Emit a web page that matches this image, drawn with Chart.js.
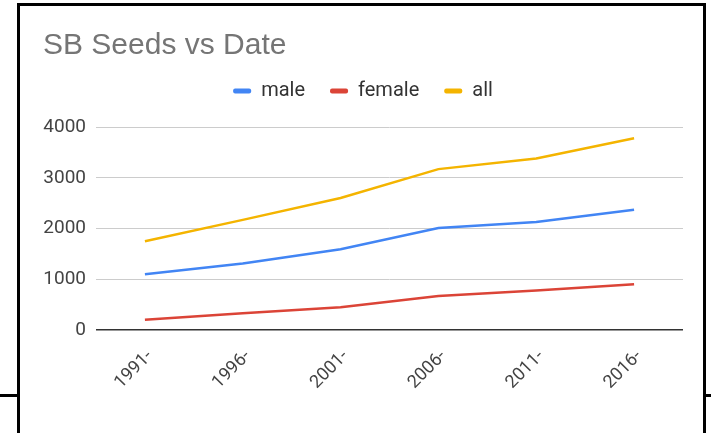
<!DOCTYPE html>
<html>
<head>
<meta charset="utf-8">
<title>SB Seeds vs Date</title>
<script src="https://cdn.jsdelivr.net/npm/chart.js@4"></script>
<style>
    html, body { margin: 0; padding: 0; background: #fff; overflow: hidden; }
    body { width: 711px; height: 433px; position: relative; }
    .frame {
        position: absolute; left: 17px; top: 3px; width: 683px; height: 440px;
        border: 3px solid #000; border-bottom: none;
    }
    .stub { position: absolute; top: 394px; height: 3px; background: #000; }
    #seedChart { position: absolute; left: 20px; top: 6px; }
</style>
</head>
<body>
<div class="frame"></div>
<div class="stub" style="left:0; width:17px;"></div>
<div class="stub" style="left:706px; width:5px;"></div>
<canvas id="seedChart" width="683" height="427"></canvas>
<script>
const dateLabels = ['1991-', '1996-', '2001-', '2006-', '2011-', '2016-'];
const maleSeeds = [1100, 1310, 1590, 2010, 2130, 2370];
const femaleSeeds = [200, 330, 450, 670, 780, 900];
const allSeeds = [1750, 2170, 2600, 3170, 3380, 3780];
const yTicks = [0, 1000, 2000, 3000, 4000];

const seriesColors = {
    male: '#4285f4',
    female: '#db4437',
    all: '#f4b400'
};

// extra room between the legend row and the plot
const legendGap = {
    id: 'legendGap',
    beforeInit(chart) {
        const fit = chart.legend.fit;
        chart.legend.fit = function () {
            fit.bind(chart.legend)();
            this.height += 16;
        };
    }
};

function lineSet(label, data, color) {
    return {
        label: label,
        data: data,
        borderColor: color,
        backgroundColor: color,
        borderWidth: 2.5,
        pointRadius: 0,
        tension: 0,
        fill: false
    };
}

function renderChart() {
    const ctx = document.getElementById('seedChart').getContext('2d');

    new Chart(ctx, {
        type: 'line',
        data: {
            labels: dateLabels,
            datasets: [
                lineSet('male', maleSeeds, seriesColors.male),
                lineSet('female', femaleSeeds, seriesColors.female),
                lineSet('all', allSeeds, seriesColors.all)
            ]
        },
        plugins: [legendGap],
        options: {
            responsive: false,
            animation: false,
            layout: {
                padding: { left: 23, right: 20, top: 0, bottom: 0 }
            },
            plugins: {
                title: {
                    display: true,
                    text: 'SB Seeds vs Date',
                    align: 'start',
                    color: '#757575',
                    font: { family: '"Liberation Sans", Arial, sans-serif', size: 30, weight: 'normal' },
                    padding: { top: 22, bottom: -8 }
                },
                legend: {
                    position: 'top',
                    labels: {
                        color: '#333',
                        font: { family: 'Roboto', size: 20 },
                        boxWidth: 18,
                        boxHeight: 5,
                        padding: 25,
                        useBorderRadius: true,
                        borderRadius: 2,
                        generateLabels: chart => {
                            const items = Chart.defaults.plugins.legend.labels.generateLabels(chart);
                            items.forEach(item => { item.lineWidth = 0; });
                            return items;
                        }
                    }
                },
                tooltip: { enabled: false }
            },
            scales: {
                x: {
                    offset: true,
                    grid: { display: false },
                    border: { display: false },
                    ticks: {
                        color: '#444',
                        font: { family: 'Roboto', size: 18 },
                        minRotation: 45,
                        maxRotation: 45,
                        autoSkip: false,
                        labelOffset: 5,
                        padding: 8
                    },
                    afterFit: scale => { scale.height = 103; }
                },
                y: {
                    min: 0,
                    max: 4000,
                    afterBuildTicks: scale => {
                        scale.ticks = yTicks.map(v => ({ value: v }));
                    },
                    grid: {
                        drawTicks: false,
                        color: c => (c.tick && c.tick.value === 0) ? '#333' : '#ccc',
                        lineWidth: c => (c.tick && c.tick.value === 0) ? 1.5 : 1
                    },
                    border: { display: false },
                    ticks: {
                        color: '#444',
                        font: { family: 'Roboto', size: 19 },
                        padding: 10,
                        callback: value => String(value)
                    },
                    afterFit: scale => { scale.width = 53; }
                }
            }
        }
    });
}

renderChart();
</script>
</body>
</html>
